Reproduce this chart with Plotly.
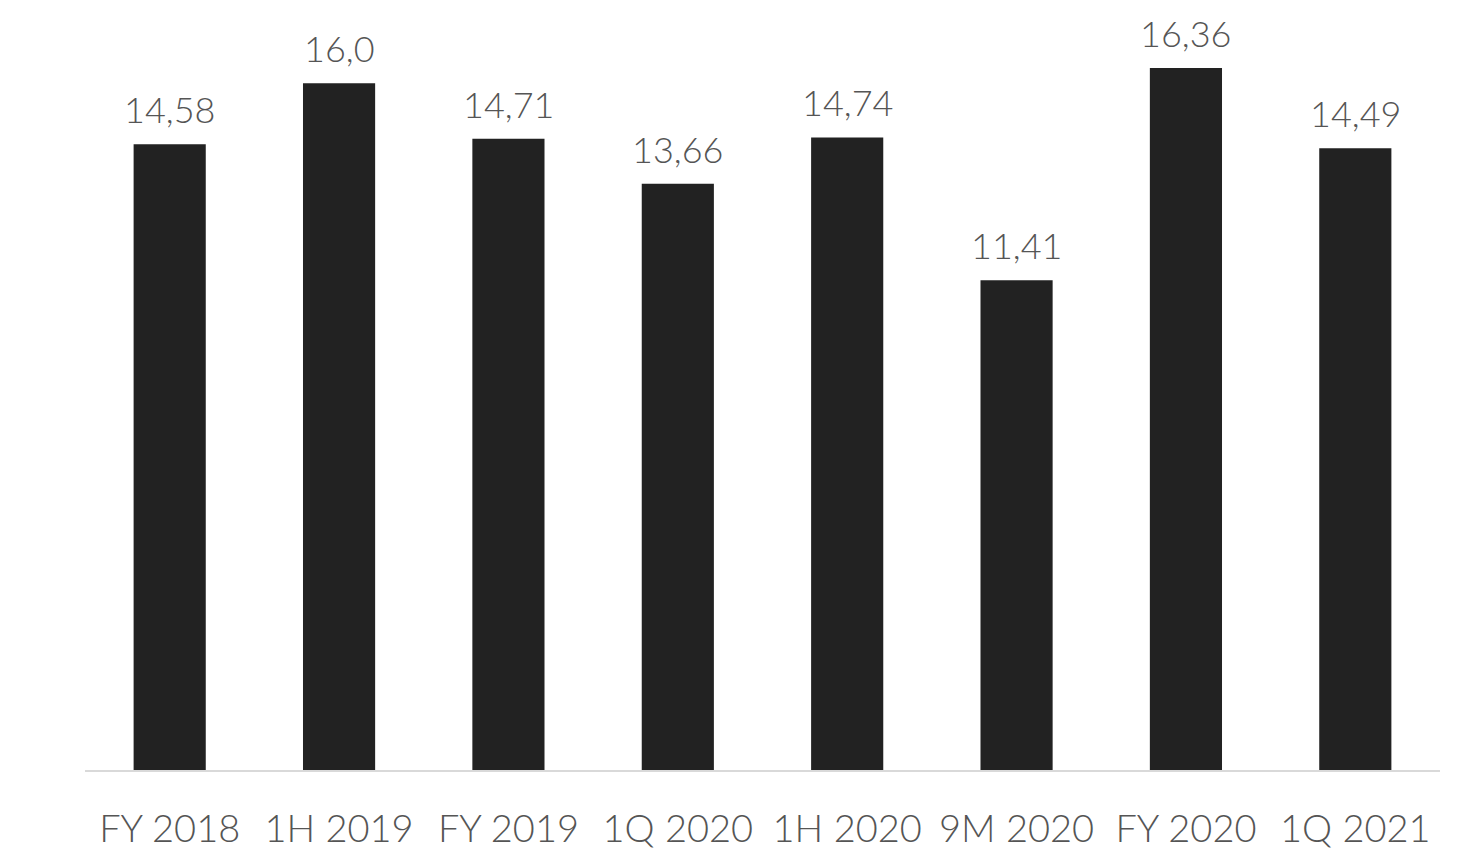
import plotly.graph_objects as go

categories = ["FY 2018", "1H 2019", "FY 2019", "1Q 2020", "1H 2020", "9M 2020", "FY 2020", "1Q 2021"]
values = [14.58, 16.0, 14.71, 13.66, 14.74, 11.41, 16.36, 14.49]
value_labels = ["14,58", "16,0", "14,71", "13,66", "14,74", "11,41", "16,36", "14,49"]

FONT = "Lato, 'Open Sans', sans-serif"
TXT = "#555555"

fig = go.Figure(go.Bar(
    x=categories, y=values,
    marker=dict(color="#222222", line=dict(width=0)),
    hoverinfo="skip",
))

for c, v, t in zip(categories, values, value_labels):
    fig.add_annotation(x=c, y=v, text=t, showarrow=False, yanchor="bottom",
                       yshift=11, font=dict(family=FONT, size=36, color=TXT, weight=300))

fig.update_layout(
    width=1460, height=854,
    margin=dict(l=85, r=20, t=19, b=84),
    paper_bgcolor="white", plot_bgcolor="white",
    bargap=0.574,
    showlegend=False,
)
fig.update_xaxes(
    showline=True, linecolor="#d9d9d9", linewidth=2,
    ticks="", ticklabelstandoff=24, automargin=False,
    tickfont=dict(family=FONT, size=38, color=TXT, weight=300),
    showgrid=False,
)
fig.update_yaxes(range=[0, 17.5], visible=False, showgrid=False, automargin=False)

fig.write_html("out.html")
